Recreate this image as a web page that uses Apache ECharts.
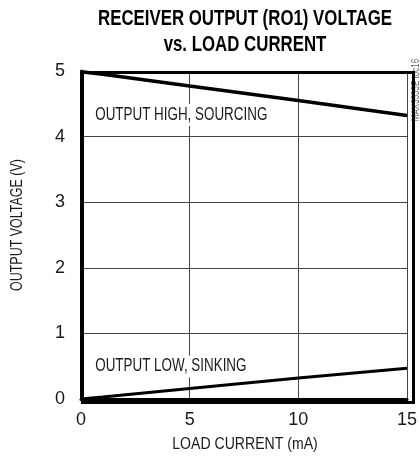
<!DOCTYPE html>
<html><head><meta charset="utf-8">
<script src="https://cdn.jsdelivr.net/npm/echarts@6/dist/echarts.min.js"></script>
<style>html,body{margin:0;padding:0;background:#fff}#c{width:420px;height:456px}</style>
</head><body><div id="c"></div>
<script>
var currents = [0, 1, 5, 10, 15];
var highV = [4.99, 4.95, 4.77, 4.55, 4.32];
var lowV = [0.0, 0.03, 0.16, 0.32, 0.47];
var titleLines = ['RECEIVER OUTPUT (RO1) VOLTAGE', 'vs. LOAD CURRENT'];
var xName = 'LOAD CURRENT (mA)';
var yName = 'OUTPUT VOLTAGE (V)';
var notes = ['OUTPUT HIGH, SOURCING', 'OUTPUT LOW, SINKING'];
var sideNote = 'MAX3535E toc16';

var FONT = '"Liberation Sans", Arial, sans-serif';
var chart = echarts.init(document.getElementById('c'));
function pairs(xs, ys){ return xs.map(function(x,i){ return [x, ys[i]]; }); }
function txt(text, x, y, font, sx, opts){
  var o = {type: 'text', x: x, y: y, scaleX: sx, scaleY: 1, z: 3,
    style: {text: text, font: font, fill: '#1a1a1a', textAlign: 'center', textVerticalAlign: 'middle'}};
  if (opts) { for (var k in opts) { if (k === 'style') { for (var s in opts.style) o.style[s] = opts.style[s]; } else o[k] = opts[k]; } }
  return o;
}
chart.setOption({
  animation: false,
  grid: {left: 81, right: 10, top: 71, bottom: 57},
  xAxis: {
    type: 'value', min: 0, max: 15, interval: 5,
    axisLine: {show: true, lineStyle: {color: '#000', width: 3}},
    axisTick: {show: false},
    axisLabel: {fontFamily: FONT, fontSize: 18, color: '#1a1a1a', margin: 12},
    splitLine: {show: true, lineStyle: {color: '#444', width: 1}}
  },
  yAxis: {
    type: 'value', min: 0, max: 5, interval: 1,
    axisLine: {show: true, lineStyle: {color: '#000', width: 3}},
    axisTick: {show: false},
    axisLabel: {fontFamily: FONT, fontSize: 18, color: '#1a1a1a', margin: 16},
    splitLine: {show: true, lineStyle: {color: '#444', width: 1}}
  },
  graphic: [
    {type: 'rect', left: 80, top: 70, shape: {width: 331, height: 330}, style: {fill: 'none', stroke: '#000', lineWidth: 3}, z: 10},
    txt(titleLines[0], 245, 19, 'bold 22px ' + FONT, 0.765, {style: {fill: '#000'}}),
    txt(titleLines[1], 245, 45, 'bold 22px ' + FONT, 0.765, {style: {fill: '#000'}}),
    txt(xName, 245, 445, '16px ' + FONT, 0.88),
    txt(yName, 18, 225, '16px ' + FONT, 0.78, {rotation: Math.PI / 2}),
    txt(notes[0], 93, 115, '18px ' + FONT, 0.745, {style: {textAlign: 'left', backgroundColor: '#fff', padding: [2, 3]}}),
    txt(notes[1], 93, 366.5, '18px ' + FONT, 0.745, {style: {textAlign: 'left', backgroundColor: '#fff', padding: [2, 3]}}),
    txt(sideNote, 416, 90, '10px ' + FONT, 0.8, {rotation: Math.PI / 2, style: {fill: '#666'}})
  ],
  series: [
    {type: 'line', data: pairs(currents, highV), showSymbol: false, lineStyle: {color: '#000', width: 3.5}, z: 5},
    {type: 'line', data: pairs(currents, lowV), showSymbol: false, lineStyle: {color: '#000', width: 3}, z: 5}
  ]
});
</script></body></html>
